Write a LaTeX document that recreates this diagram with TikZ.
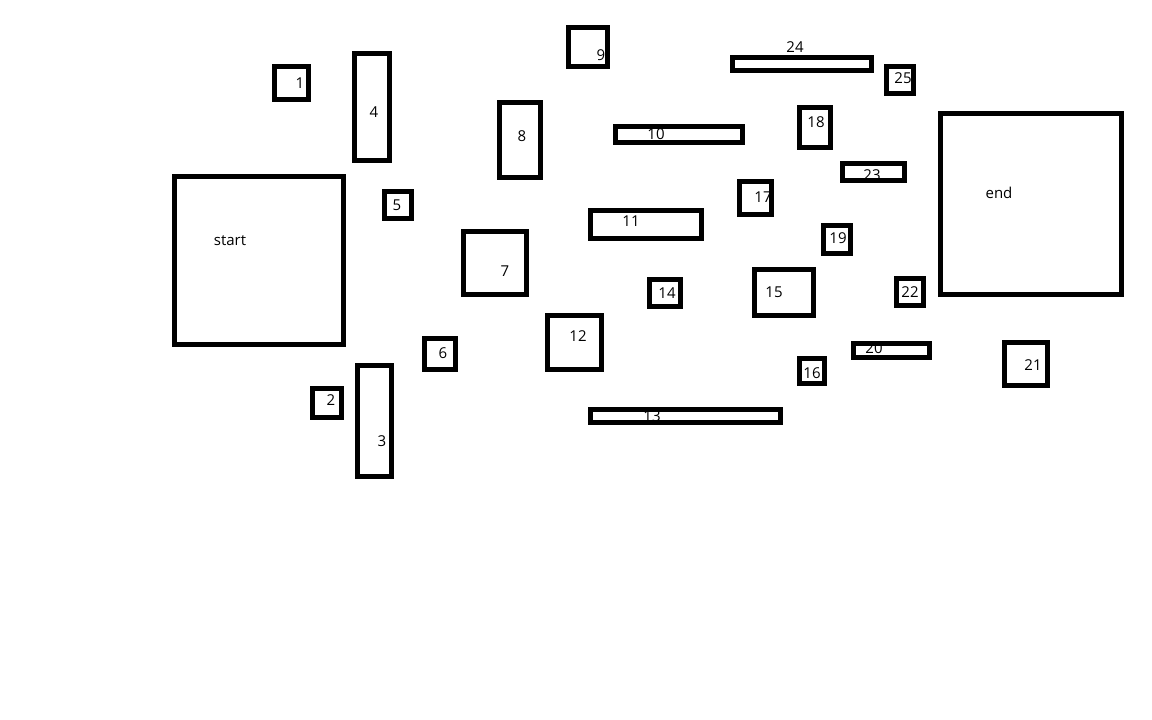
\documentclass[tikz,border=0pt]{standalone}
\usepackage{fontspec}
\setmainfont{Open Sans}
\usetikzlibrary{backgrounds}
\tikzset{
    %Define style for boxes
    room/.style={
           rectangle,
           draw=black, line width=5pt,
           inner sep=0pt},
    % Define style for box numbers
    tag/.style={
           inner sep=0pt,
           font=\fontsize{15pt}{18pt}\selectfont}
}

\begin{document}
\begin{tikzpicture}[x=1pt,y=-1pt]
    \useasboundingbox (0,0) rectangle (1152,720);
    % big boxes
    \node (start) [room,minimum width=169pt,minimum height=168pt] at (259,260.5) {};
    \node (end) [room,minimum width=181pt,minimum height=181pt] at (1031,204) {};
    % numbered boxes
    \node (b1) [room,minimum width=34pt,minimum height=33pt] at (291.5,83) {};
    \node (b2) [room,minimum width=29pt,minimum height=29pt] at (327,403) {};
    \node (b3) [room,minimum width=34pt,minimum height=111pt] at (374.5,421) {};
    \node (b4) [room,minimum width=35pt,minimum height=107pt] at (372,107) {};
    \node (b5) [room,minimum width=27pt,minimum height=27pt] at (398,205) {};
    \node (b6) [room,minimum width=31pt,minimum height=31pt] at (440,354) {};
    \node (b7) [room,minimum width=63pt,minimum height=63pt] at (495,263) {};
    \node (b8) [room,minimum width=41pt,minimum height=75pt] at (520,140) {};
    \node (b9) [room,minimum width=39pt,minimum height=39pt] at (588,47) {};
    \node (b10) [room,minimum width=127pt,minimum height=16pt] at (679,134.5) {};
    \node (b11) [room,minimum width=111pt,minimum height=28pt] at (646,224.5) {};
    \node (b12) [room,minimum width=54pt,minimum height=54pt] at (574.5,342.5) {};
    \node (b13) [room,minimum width=190pt,minimum height=13pt] at (685.5,416) {};
    \node (b14) [room,minimum width=31pt,minimum height=27pt] at (665,293) {};
    \node (b15) [room,minimum width=59pt,minimum height=46pt] at (784,292.5) {};
    \node (b16) [room,minimum width=25pt,minimum height=25pt] at (812,371) {};
    \node (b17) [room,minimum width=32pt,minimum height=33pt] at (755.5,198) {};
    \node (b18) [room,minimum width=31pt,minimum height=40pt] at (815,127.5) {};
    \node (b19) [room,minimum width=27pt,minimum height=28pt] at (837,239.5) {};
    \node (b20) [room,minimum width=76pt,minimum height=14pt] at (891.5,350.5) {};
    \node (b21) [room,minimum width=43pt,minimum height=43pt] at (1026,364) {};
    \node (b22) [room,minimum width=27pt,minimum height=27pt] at (910,292) {};
    \node (b23) [room,minimum width=62pt,minimum height=17pt] at (873.5,172) {};
    \node (b24) [room,minimum width=139pt,minimum height=13pt] at (802,64) {};
    \node (b25) [room,minimum width=27pt,minimum height=27pt] at (900,80) {};
    % texts go under the borders
    \begin{pgfonlayer}{background}
      \node (tstart) [tag] at (230,241) {start};
      \node (tend) [tag] at (999,193) {end};
      \node (t1) [tag] at (300,83) {1};
      \node (t2) [tag] at (331,400) {2};
      \node (t3) [tag] at (382,441) {3};
      \node (t4) [tag] at (374,112) {4};
      \node (t5) [tag] at (397,205) {5};
      \node (t6) [tag] at (443,353) {6};
      \node (t7) [tag] at (505,271) {7};
      \node (t8) [tag] at (522,136) {8};
      \node (t9) [tag] at (601,55) {9};
      \node (t10) [tag] at (656,134) {10};
      \node (t11) [tag] at (631,221) {11};
      \node (t12) [tag] at (578,336) {12};
      \node (t13) [tag] at (652,416) {13};
      \node (t14) [tag] at (667,293) {14};
      \node (t15) [tag] at (774,292) {15};
      \node (t16) [tag] at (812,373) {16};
      \node (t17) [tag] at (763,197) {17};
      \node (t18) [tag] at (816,122) {18};
      \node (t19) [tag] at (838,238) {19};
      \node (t20) [tag] at (874,348) {20};
      \node (t21) [tag] at (1033,365) {21};
      \node (t22) [tag] at (910,292) {22};
      \node (t23) [tag] at (872,175) {23};
      \node (t24) [tag] at (795,47) {24};
      \node (t25) [tag] at (903,78) {25};
    \end{pgfonlayer}
\end{tikzpicture}
\end{document}
